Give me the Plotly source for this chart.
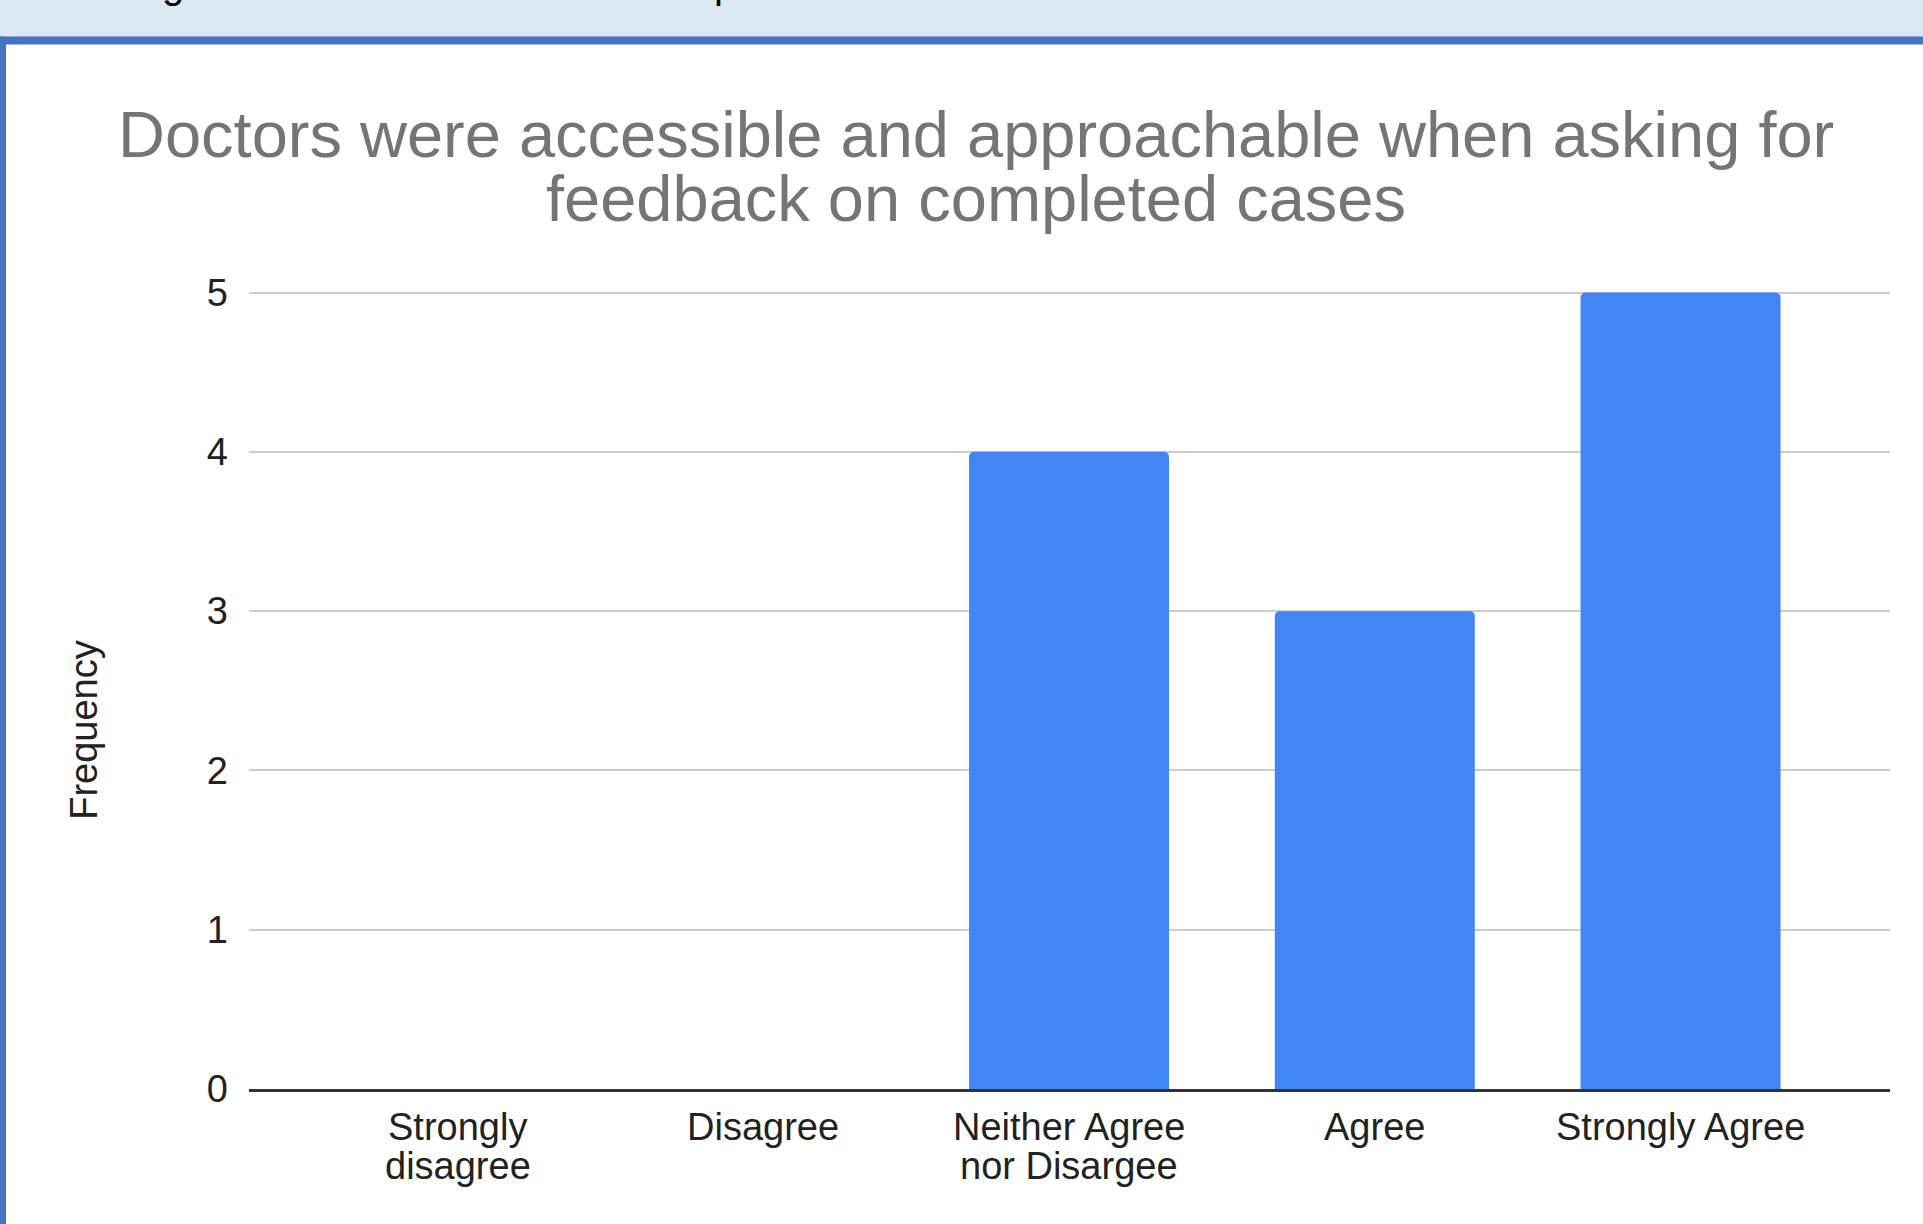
import plotly.graph_objects as go

# ---- data ----
categories = ["Strongly disagree", "Disagree", "Neither Agree nor Disargee", "Agree", "Strongly Agree"]
tick_labels = ["Strongly<br>disagree", "Disagree", "Neither Agree<br>nor Disargee", "Agree", "Strongly Agree"]
frequency = [0, 0, 4, 3, 5]
y_ticks = [0, 1, 2, 3, 4, 5]
title_lines = ["Doctors were accessible and approachable when asking for", "feedback on completed cases"]
y_title = "Frequency"

W, H = 1923, 1224
Y_MAX = 5.01
L, R, B = 249, 1890, 1089          # plot area in pixels
T = B - (B - 293) * Y_MAX / 5.0    # so that y=5 lands at pixel 293


def px_x(px):
    return (px - L) / (R - L)


def px_y(py):
    return (B - py) / (B - T)


FONT = "Liberation Sans, Arial, sans-serif"

fig = go.Figure()
fig.add_trace(go.Bar(
    x=categories,
    y=frequency,
    marker=dict(color="#4285f4", line=dict(width=0), cornerradius=5),
    width=0.654,
    hoverinfo="x+y",
))

annotations = [
    dict(text=title_lines[0], x=px_x(976), y=px_y(135), xref="paper", yref="paper",
         xanchor="center", yanchor="middle", showarrow=False,
         font=dict(family=FONT, size=65, color="#757575")),
    dict(text=title_lines[1], x=px_x(976), y=px_y(199), xref="paper", yref="paper",
         xanchor="center", yanchor="middle", showarrow=False,
         font=dict(family=FONT, size=65, color="#757575")),
    dict(text=y_title, x=px_x(84), y=px_y(730), xref="paper", yref="paper",
         xanchor="center", yanchor="middle", showarrow=False, textangle=-90,
         font=dict(family=FONT, size=38, color="#222222")),
    # descenders of the cut-off caption text above the chart frame
    dict(text="g", x=px_x(173), y=px_y(9), xref="paper", yref="paper",
         xanchor="center", yanchor="bottom", showarrow=False,
         font=dict(family=FONT, size=40, color="#000000")),
    dict(text="p", x=px_x(712), y=px_y(9), xref="paper", yref="paper",
         xanchor="left", yanchor="bottom", showarrow=False,
         font=dict(family=FONT, size=40, color="#000000")),
]

# category tick labels, one annotation per line (tighter line spacing as in the reference)
line_y = [1127, 1166]
for cat, lab in zip(categories, tick_labels):
    for i, part in enumerate(lab.split("<br>")):
        annotations.append(dict(
            text=part, x=cat, y=px_y(line_y[i]), xref="x", yref="paper",
            xanchor="center", yanchor="middle", showarrow=False,
            font=dict(family=FONT, size=38, color="#222222")))

shapes = [
    # light blue band at top
    dict(type="rect", xref="paper", yref="paper", x0=px_x(0), x1=px_x(W), y0=px_y(0), y1=px_y(37),
         fillcolor="#dce8f4", line=dict(width=0), layer="below"),
    # blue frame top line
    dict(type="rect", xref="paper", yref="paper", x0=px_x(0), x1=px_x(W), y0=px_y(37), y1=px_y(45),
         fillcolor="#4472c4", line=dict(width=0), layer="below"),
    # blue frame left line
    dict(type="rect", xref="paper", yref="paper", x0=px_x(0), x1=px_x(6), y0=px_y(37), y1=px_y(H),
         fillcolor="#4472c4", line=dict(width=0), layer="below"),
]

fig.update_layout(
    width=W, height=H,
    margin=dict(l=L, r=W - R, t=T, b=H - B, pad=0),
    paper_bgcolor="white", plot_bgcolor="white",
    showlegend=False,
    bargap=0.3,
    annotations=annotations,
    shapes=shapes,
    font=dict(family=FONT, color="#222222"),
)

fig.update_xaxes(
    categoryorder="array", categoryarray=categories,
    range=[-0.682, 4.685],
    showgrid=False, zeroline=False,
    showline=True, linecolor="#333333", linewidth=3,
    ticks="", showticklabels=False,
    fixedrange=True,
)
fig.update_yaxes(
    range=[0, Y_MAX], tickvals=y_ticks,
    showgrid=True, gridcolor="#cccccc", gridwidth=2,
    zeroline=False, showline=False,
    ticks="", ticklabelstandoff=20,
    tickfont=dict(family=FONT, size=38, color="#222222"),
    fixedrange=True,
)

fig.write_html("out.html")
